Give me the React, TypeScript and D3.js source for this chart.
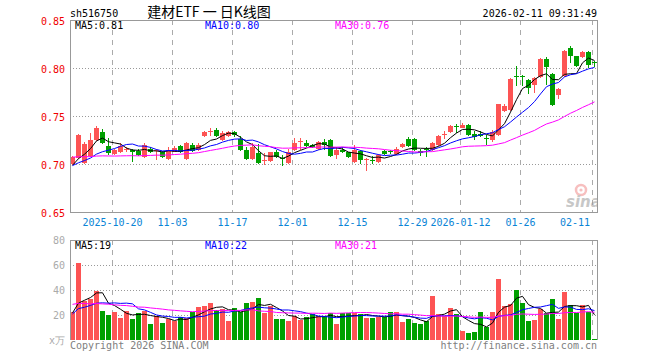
import React from 'react'
import * as d3 from 'd3'

// trading days shown on the chart
const dates = [
    '2025-10-09', '2025-10-10', '2025-10-13', '2025-10-14', '2025-10-15', '2025-10-16', '2025-10-17',
    '2025-10-20', '2025-10-21', '2025-10-22', '2025-10-23', '2025-10-24',
    '2025-10-27', '2025-10-28', '2025-10-29', '2025-10-30', '2025-10-31',
    '2025-11-03', '2025-11-04', '2025-11-05', '2025-11-06', '2025-11-07',
    '2025-11-10', '2025-11-11', '2025-11-12', '2025-11-13', '2025-11-14',
    '2025-11-17', '2025-11-18', '2025-11-19', '2025-11-20', '2025-11-21',
    '2025-11-24', '2025-11-25', '2025-11-26', '2025-11-27', '2025-11-28',
    '2025-12-01', '2025-12-02', '2025-12-03', '2025-12-04', '2025-12-05',
    '2025-12-08', '2025-12-09', '2025-12-10', '2025-12-11', '2025-12-12',
    '2025-12-15', '2025-12-16', '2025-12-17', '2025-12-18', '2025-12-19',
    '2025-12-22', '2025-12-23', '2025-12-24', '2025-12-25', '2025-12-26',
    '2025-12-29', '2025-12-30', '2025-12-31',
    '2026-01-05', '2026-01-06', '2026-01-07', '2026-01-08', '2026-01-09',
    '2026-01-12', '2026-01-13', '2026-01-14', '2026-01-15', '2026-01-16',
    '2026-01-19', '2026-01-20', '2026-01-21', '2026-01-22', '2026-01-23',
    '2026-01-26', '2026-01-27', '2026-01-28', '2026-01-29', '2026-01-30',
    '2026-02-02', '2026-02-03', '2026-02-04', '2026-02-05', '2026-02-06',
    '2026-02-09', '2026-02-10', '2026-02-11',
]

const opens = [
    0.700, 0.706, 0.701, 0.708, 0.725, 0.733, 0.719, 0.710, 0.712, 0.715,
    0.715, 0.714, 0.707, 0.716, 0.714, 0.713, 0.705, 0.713, 0.719, 0.705,
    0.720, 0.715, 0.729, 0.733, 0.735, 0.725, 0.729, 0.733, 0.726, 0.715,
    0.705, 0.711, 0.703, 0.703, 0.712, 0.706, 0.701, 0.715, 0.723, 0.722,
    0.720, 0.716, 0.723, 0.725, 0.709, 0.715, 0.712, 0.702, 0.714, 0.704,
    0.704, 0.702, 0.714, 0.714, 0.710, 0.718, 0.726, 0.726, 0.714, 0.7155,
    0.715, 0.720, 0.730, 0.733, 0.740, 0.738, 0.741, 0.731, 0.731, 0.727,
    0.725, 0.730, 0.755, 0.756, 0.792, 0.792, 0.788, 0.782, 0.791, 0.809,
    0.794, 0.772, 0.792, 0.821, 0.812, 0.811, 0.817, 0.806,
]
const highs = [
    0.708, 0.731, 0.723, 0.732, 0.740, 0.736, 0.727, 0.716, 0.722, 0.718,
    0.716, 0.716, 0.722, 0.718, 0.716, 0.714, 0.718, 0.719, 0.720, 0.723,
    0.722, 0.722, 0.734, 0.738, 0.737, 0.734, 0.734, 0.734, 0.729, 0.718,
    0.722, 0.721, 0.711, 0.713, 0.715, 0.709, 0.716, 0.727, 0.727, 0.725,
    0.721, 0.724, 0.726, 0.726, 0.718, 0.718, 0.713, 0.720, 0.715, 0.706,
    0.708, 0.710, 0.715, 0.715, 0.718, 0.722, 0.728, 0.727, 0.716, 0.718,
    0.723, 0.730, 0.734, 0.741, 0.742, 0.743, 0.742, 0.734, 0.734, 0.730,
    0.735, 0.763, 0.762, 0.790, 0.802, 0.793, 0.789, 0.791, 0.810, 0.811,
    0.795, 0.779, 0.819, 0.823, 0.813, 0.818, 0.818, 0.807,
]
const lows = [
    0.699, 0.705, 0.700, 0.707, 0.724, 0.721, 0.709, 0.709, 0.711, 0.713,
    0.702, 0.708, 0.706, 0.711, 0.704, 0.706, 0.704, 0.712, 0.711, 0.704,
    0.713, 0.714, 0.728, 0.729, 0.728, 0.724, 0.728, 0.728, 0.714, 0.704,
    0.704, 0.700, 0.699, 0.702, 0.706, 0.698, 0.700, 0.714, 0.715, 0.718,
    0.717, 0.715, 0.715, 0.707, 0.705, 0.711, 0.706, 0.701, 0.700, 0.693,
    0.700, 0.701, 0.709, 0.710, 0.709, 0.717, 0.718, 0.714, 0.708, 0.707,
    0.714, 0.719, 0.726, 0.732, 0.732, 0.737, 0.729, 0.725, 0.728, 0.720,
    0.723, 0.729, 0.754, 0.755, 0.781, 0.781, 0.773, 0.774, 0.790, 0.782,
    0.760, 0.768, 0.791, 0.805, 0.801, 0.810, 0.800, 0.801,
]
const closes = [
    0.707, 0.730, 0.721, 0.725, 0.737, 0.722, 0.711, 0.715, 0.719, 0.716,
    0.712, 0.709, 0.720, 0.712, 0.715, 0.707, 0.715, 0.717, 0.712, 0.722,
    0.714, 0.720, 0.733, 0.734, 0.729, 0.732, 0.733, 0.730, 0.715, 0.705,
    0.718, 0.701, 0.704, 0.712, 0.707, 0.705, 0.713, 0.722, 0.724, 0.719,
    0.718, 0.723, 0.720, 0.708, 0.715, 0.712, 0.707, 0.715, 0.704, 0.705,
    0.703, 0.709, 0.710, 0.712, 0.716, 0.721, 0.719, 0.715, 0.711, 0.715,
    0.722, 0.729, 0.731, 0.740, 0.739, 0.741, 0.730, 0.728, 0.729, 0.726,
    0.733, 0.762, 0.760, 0.789, 0.791, 0.791, 0.779, 0.790, 0.809, 0.801,
    0.761, 0.778, 0.818, 0.812, 0.802, 0.817, 0.803, 0.805,
]
// 万手
const volumes = [
    22.5, 62, 31.5, 32.8, 39.5, 23.2, 20, 22.4, 17.9, 23.2,
    16.8, 21.9, 23.2, 12.8, 19.2, 13.9, 16.8, 15.2, 18.7, 17.3,
    22.7, 26.7, 27.5, 29.9, 24, 24.5, 15.2, 25.9, 22.4, 29.9,
    30.7, 33.3, 21.9, 27.2, 16.8, 16.8, 15.2, 19.2, 16, 18.1,
    20.8, 19.2, 19.2, 21.3, 12.8, 21.3, 21.3, 21.3, 20.8, 17.3,
    17.3, 18.7, 18.7, 22.7, 22.7, 14.4, 16.5, 13.9, 12.8, 15.5,
    35.2, 20.8, 19.2, 25.3, 20.8, 7.2, 5.9, 6.4, 22.4, 10.7,
    22.4, 48.8, 27.2, 28.8, 40, 29.9, 15.5, 16, 24.8, 21.3,
    32.8, 16.8, 38.4, 28, 21.3, 28, 22.7, 0.8,
]

// 图左侧之前的收盘价/成交量（估计，只用于均线）
const priorCloses = [
    0.718, 0.720, 0.722, 0.719, 0.716, 0.714, 0.717, 0.715, 0.712, 0.710,
    0.713, 0.711, 0.708, 0.706, 0.709, 0.707, 0.704, 0.702, 0.705, 0.703,
    0.700, 0.698, 0.699, 0.696, 0.697, 0.695, 0.698, 0.696, 0.697,
]
const priorVolumes = [
    38, 35, 42, 30, 33, 28, 36, 31, 29, 34,
    40, 27, 30, 33, 29, 35, 26, 31, 28, 32,
    19, 21, 18, 22, 20, 23, 20, 22, 21,
]

const tickDates = ['2025-10-20', '2025-11-03', '2025-11-17', '2025-12-01', '2025-12-15', '2025-12-29', '2026-01-12', '2026-01-26', '2026-02-11']
const tickLabels = ['2025-10-20', '11-03', '11-17', '12-01', '12-15', '12-29', '2026-01-12', '01-26', '02-11']
const priceTicks = [0.85, 0.8, 0.75, 0.7, 0.65]
const volTicks = [80, 60, 40, 20]

const maPeriods = [5, 10, 30]
const maColors = ['#000000', '#0000ff', '#ff00ff']
const priceMaLabels = ['0.81', '0.80', '0.76']
const volMaLabels = ['19', '22', '21']

const RED = '#fd5454'
const GREEN = '#00a000'
const MONO = "'DejaVu Sans Mono', monospace"

const left = 70
const right = 597
const priceTop = 20
const priceBottom = 212
const volTop = 240
const volBottom = 340

function movingAverage(prior: number[], values: number[], n: number) {
    const all = prior.concat(values)
    const p = prior.length
    return values.map((_, i) => d3.mean(all.slice(p + i - n + 1, p + i + 1)) as number)
}

export default function App() {
    const x = d3.scaleLinear().domain([0, dates.length]).range([left, left + 6 * dates.length])
    const cx = (i: number) => x(i) + 2.5
    const y = d3.scaleLinear().domain([0.65, 0.85]).range([priceBottom, priceTop])
    const yv = d3.scaleLinear().domain([0, 80]).range([volBottom, volTop])

    const priceLine = d3.line<number>().x((_, i) => cx(i)).y((d) => y(d))
    const volLine = d3.line<number>().x((_, i) => cx(i)).y((d) => yv(d))

    const priceMas = maPeriods.map((n) => movingAverage(priorCloses, closes, n))
    const volMas = maPeriods.map((n) => movingAverage(priorVolumes, volumes, n))

    const isUp = (i: number) => closes[i] >= opens[i]

    const ticks = tickDates.map((d, k) => {
        const gx = x(dates.indexOf(d)) + 0.5
        const w = tickLabels[k].length * 6
        return { gx, lx: Math.min(gx, right - 7 - w / 2), label: tickLabels[k] }
    })

    return (
        <div style={{ position: 'fixed', left: 0, top: 0 }}>
            <svg width={660} height={360} style={{ display: 'block', background: '#fff' }}>
                <defs>
                    <clipPath id="main-clip">
                        <rect x={left} y={priceTop} width={right - left} height={priceBottom - priceTop} />
                    </clipPath>
                </defs>

                {/* 标题 */}
                <text x={70} y={16.5} fontFamily={MONO} fontSize={10}>sh516750</text>
                <text x={209} y={17} textAnchor="middle" fontFamily="'Noto Sans CJK SC', sans-serif" fontSize={14}>
                    建材ETF 一 日K线图
                </text>
                <text x={597} y={16.5} textAnchor="end" fontFamily={MONO} fontSize={10}>2026-02-11 09:31:49</text>

                {/* 网格 */}
                <g shapeRendering="crispEdges">
                    {[0.8, 0.75, 0.7].map((v) => (
                        <line key={v} x1={left} x2={right} y1={y(v) + 0.5} y2={y(v) + 0.5} stroke="#999" strokeDasharray="1,2" />
                    ))}
                    {[60, 40, 20].map((v) => (
                        <line key={v} x1={left} x2={right} y1={yv(v) + 0.5} y2={yv(v) + 0.5} stroke="#999" strokeDasharray="1,2" />
                    ))}
                    {ticks.map((t) => (
                        <g key={t.label}>
                            <line x1={t.gx} x2={t.gx} y1={priceTop} y2={priceBottom} stroke="#aaa" strokeDasharray="5,5" />
                            <line x1={t.gx} x2={t.gx} y1={volTop} y2={volBottom} stroke="#aaa" strokeDasharray="5,5" />
                        </g>
                    ))}
                </g>

                {/* sina 水印 */}
                <g clipPath="url(#main-clip)" opacity={0.55}>
                    <circle cx={581} cy={190} r={5} fill="none" stroke="#f28c8c" strokeWidth={2.5} />
                    <circle cx={581} cy={190} r={1.6} fill="#f28c8c" />
                    <text x={566} y={207} fontFamily="'DejaVu Sans', sans-serif" fontStyle="italic" fontWeight="bold" fontSize={15} fill="#9a9a9a">
                        sina
                    </text>
                </g>

                {/* K线 */}
                <g shapeRendering="crispEdges">
                    {closes.map((c, i) => {
                        const color = isUp(i) ? RED : GREEN
                        const top = y(Math.max(opens[i], c))
                        const bot = y(Math.min(opens[i], c))
                        return (
                            <g key={i}>
                                <line x1={cx(i)} x2={cx(i)} y1={y(highs[i])} y2={y(lows[i])} stroke={color} />
                                <rect x={x(i)} y={top} width={5} height={Math.max(1, bot - top)} fill={color} />
                            </g>
                        )
                    })}
                </g>

                {/* 成交量 */}
                <g shapeRendering="crispEdges">
                    {volumes.map((v, i) => (
                        <rect key={i} x={x(i)} y={yv(v)} width={5} height={volBottom - yv(v)} fill={isUp(i) ? RED : GREEN} />
                    ))}
                </g>

                {/* 均线 */}
                {priceMas.map((ma, k) => (
                    <path key={k} d={priceLine(ma) ?? ''} fill="none" stroke={maColors[k]} strokeWidth={1} />
                ))}
                {volMas.map((ma, k) => (
                    <path key={k} d={volLine(ma) ?? ''} fill="none" stroke={maColors[k]} strokeWidth={1} />
                ))}

                {/* 边框 */}
                <g shapeRendering="crispEdges" stroke="#999" fill="none">
                    <rect x={left + 0.5} y={priceTop + 0.5} width={right - left} height={priceBottom - priceTop} />
                    <polyline points={`${left + 0.5},${volBottom} ${left + 0.5},${volTop + 0.5} ${right + 0.5},${volTop + 0.5} ${right + 0.5},${volBottom}`} />
                </g>

                {/* 坐标轴文字 */}
                {priceTicks.map((v) => (
                    <text key={v} x={65} y={y(v) + 4.5} textAnchor="end" fontFamily={MONO} fontSize={10} fill="#f00000">
                        {d3.format('.2f')(v)}
                    </text>
                ))}
                {volTicks.map((v) => (
                    <text key={v} x={65} y={yv(v) + 4} textAnchor="end" fontFamily={MONO} fontSize={10} fill="#aaa">
                        {v}
                    </text>
                ))}
                <text x={65} y={yv(0) + 4} textAnchor="end" fontFamily={MONO} fontSize={10} fill="#aaa">x万</text>
                {ticks.map((t) => (
                    <text key={t.label} x={t.lx} y={226} textAnchor="middle" fontFamily={MONO} fontSize={10} fill="#0a84d6">
                        {t.label}
                    </text>
                ))}

                {/* 均线标签 */}
                {maPeriods.map((n, k) => (
                    <g key={n} fontFamily={MONO} fontSize={10} fill={maColors[k]}>
                        <text x={75 + 130 * k} y={29}>{`MA${n}:${priceMaLabels[k]}`}</text>
                        <text x={75 + 130 * k} y={249}>{`MA${n}:${volMaLabels[k]}`}</text>
                    </g>
                ))}

                {/* 页脚 */}
                <text x={70} y={349} fontFamily={MONO} fontSize={10} fill="#808080">Copyright 2026 SINA.COM</text>
                <text x={597} y={349} textAnchor="end" fontFamily={MONO} fontSize={10} fill="#808080">http://finance.sina.com.cn</text>
            </svg>
        </div>
    )
}
